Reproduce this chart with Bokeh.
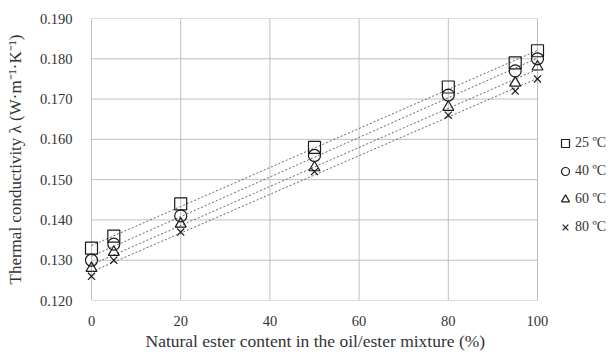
import numpy as np
from bokeh.plotting import figure
from bokeh.models import Legend, LegendItem, NumeralTickFormatter, FixedTicker, Range1d, Title
from bokeh.embed import file_html
from bokeh.resources import INLINE

ester_content = [0, 5, 20, 50, 80, 95, 100]
k_25 = [0.133, 0.136, 0.144, 0.158, 0.173, 0.179, 0.182]
k_40 = [0.130, 0.134, 0.141, 0.156, 0.171, 0.177, 0.180]
k_60 = [0.128, 0.132, 0.139, 0.153, 0.168, 0.174, 0.178]
k_80 = [0.126, 0.130, 0.137, 0.152, 0.166, 0.172, 0.175]
series_labels = ["25 ºC", "40 ºC", "60 ºC", "80 ºC"]
x_ticks = [0, 20, 40, 60, 80, 100]
y_ticks = [0.12, 0.13, 0.14, 0.15, 0.16, 0.17, 0.18, 0.19]
x_label = "Natural ester content in the oil/ester mixture (%)"
y_label = "Thermal conductivity λ (W·m⁻¹·K⁻¹)"

FONT = "Liberation Serif"
GRID = "#bfbfbf"
TEXT = "#333333"

x_min, x_max = x_ticks[0], x_ticks[-1]
y_min, y_max = y_ticks[0], y_ticks[-1]
# frame spans the whole width (room for markers at the edges and for the legend)
pad_left, pad_right = 2.915, 15.92

p = figure(width=608, height=352, output_backend="svg", toolbar_location=None,
           x_range=Range1d(x_min - pad_left, x_max + pad_right), y_range=Range1d(y_min, y_max),
           min_border_left=78, min_border_right=0, min_border_top=18, min_border_bottom=52)
p.outline_line_color = None
p.background_fill_color = "white"
p.xgrid.visible = False
p.ygrid.visible = False

# grid drawn only over the data region
p.segment(x0=[x_min] * len(y_ticks), x1=[x_max] * len(y_ticks), y0=y_ticks, y1=y_ticks,
          line_color=GRID, line_width=1)
p.segment(x0=x_ticks, x1=x_ticks, y0=[y_min] * len(x_ticks), y1=[y_max] * len(x_ticks),
          line_color=GRID, line_width=1)

for ax in (p.xaxis[0], p.yaxis[0]):
    ax.axis_line_color = None
    ax.major_tick_line_color = None
    ax.minor_tick_line_color = None
    ax.major_label_text_font = FONT
    ax.major_label_text_font_size = "14.5px"
    ax.major_label_text_color = TEXT
    ax.axis_label_text_font = FONT
    ax.axis_label_text_font_style = "normal"
    ax.axis_label_text_color = TEXT
    ax.axis_label_text_font_size = "17px"

p.xaxis.bounds = (x_min, x_max)
p.xaxis.ticker = FixedTicker(ticks=x_ticks)
p.yaxis.ticker = FixedTicker(ticks=y_ticks)
p.yaxis.formatter = NumeralTickFormatter(format="0.000")
p.yaxis.axis_label = y_label
p.xaxis.major_label_standoff = 9
p.yaxis.major_label_standoff = 0
p.yaxis.axis_label_standoff = 12

# x-axis title positioned over the data region (the frame is wider than the data)
xt = Title(text=x_label, align="left", offset=67, standoff=0, text_font=FONT,
           text_font_size="17.5px", text_font_style="normal", text_color=TEXT)
p.add_layout(xt, "below")

x = np.array(ester_content, dtype=float)
items = []
markers = ["square", "circle", "triangle", "x"]
sizes = [12, 12, 11, 10]
for ys, lab, mk, sz in zip([k_25, k_40, k_60, k_80], series_labels, markers, sizes):
    a, b = np.polyfit(x, np.array(ys), 1)
    xs = np.array([x_min, x_max], dtype=float)
    p.line(xs, a * xs + b, line_color="#555555", line_width=0.9, line_dash="2 2")
    r = p.scatter(ester_content, ys, marker=mk, size=sz, line_color="#1a1a1a",
                  fill_alpha=0, line_width=1.2)
    items.append(LegendItem(label=lab, renderers=[r]))

legend = Legend(items=items, location=(477, 63), background_fill_alpha=0,
                border_line_color=None, label_text_font=FONT, label_text_font_size="14px",
                label_text_color=TEXT, spacing=8, glyph_width=20, glyph_height=20,
                label_standoff=-4, padding=0, margin=0)
p.add_layout(legend, "center")

open("out.html", "w").write(file_html(p, INLINE))
